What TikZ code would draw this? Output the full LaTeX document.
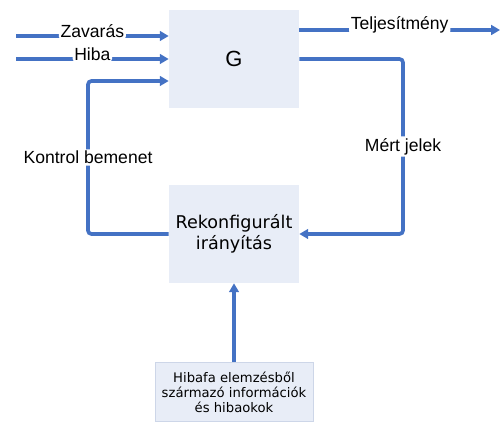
\documentclass[tikz,border=0pt]{standalone}
\usepackage{fontspec}
\setmainfont{Liberation Sans}
\newfontfamily\boxfont{DejaVu Sans}
\usetikzlibrary{positioning, arrows.meta}
\definecolor{lineblue}{RGB}{68,114,196}
\definecolor{boxfill}{RGB}{232,237,247}
\definecolor{boxedge}{RGB}{205,214,232}

\begin{document}
\begin{tikzpicture}[x=0.02cm, y=-0.02cm,
  blk/.style={fill=boxfill, inner sep=0pt, align=center},
  sig/.style={draw=lineblue, line width=2.1pt, rounded corners=2pt,
    -{Triangle[length=5pt,width=5.5pt]}},
  lbl/.style={fill=white, inner sep=1pt, font=\fontsize{10}{12}\selectfont}]
\useasboundingbox (0,0) rectangle (500,425);

% Blocks
\node[blk, minimum width=2.6cm, minimum height=1.96cm,
  font=\fontsize{12.5}{14}\selectfont] (G) at (234,59) {G};
\node[blk, minimum width=2.6cm, minimum height=1.96cm,
  font=\boxfont\fontsize{10}{12}\selectfont] (R) at (234,234) {Rekonfigurált\\irányítás};
\node[blk, draw=boxedge, minimum width=3.16cm, minimum height=1.18cm,
  font=\boxfont\fontsize{7.5}{8.5}\selectfont] (H) at (234,392)
  {Hibafa elemzésből\\származó információk\\és hibaokok};

% Free ends
\coordinate (za) at (16,36);
\coordinate (hi) at (16,59);
\coordinate (out) at (500,30);
\coordinate (kc) at (88,81);
\coordinate (mc) at (403,59);

% Inputs
\draw[sig] (za) -- node[lbl, yshift=2.5pt] {Zavarás} (za -| G.west);
\draw[sig] (hi) -- node[lbl, yshift=3pt] {Hiba} (hi -| G.west);
\draw[sig] (R.west) -| node[lbl, pos=0.75] {Kontrol bemenet} (kc) -- (kc -| G.west);

% Outputs
\draw[sig] (G.east |- out) -- node[lbl, yshift=3pt] {Teljesítmény} (out);
\draw[sig] (G.east) -- (mc) |- node[lbl, pos=0.25] {Mért jelek} (R.east);

% Fault tree info
\draw[sig] (H.north) -- (R.south);
\end{tikzpicture}
\end{document}
